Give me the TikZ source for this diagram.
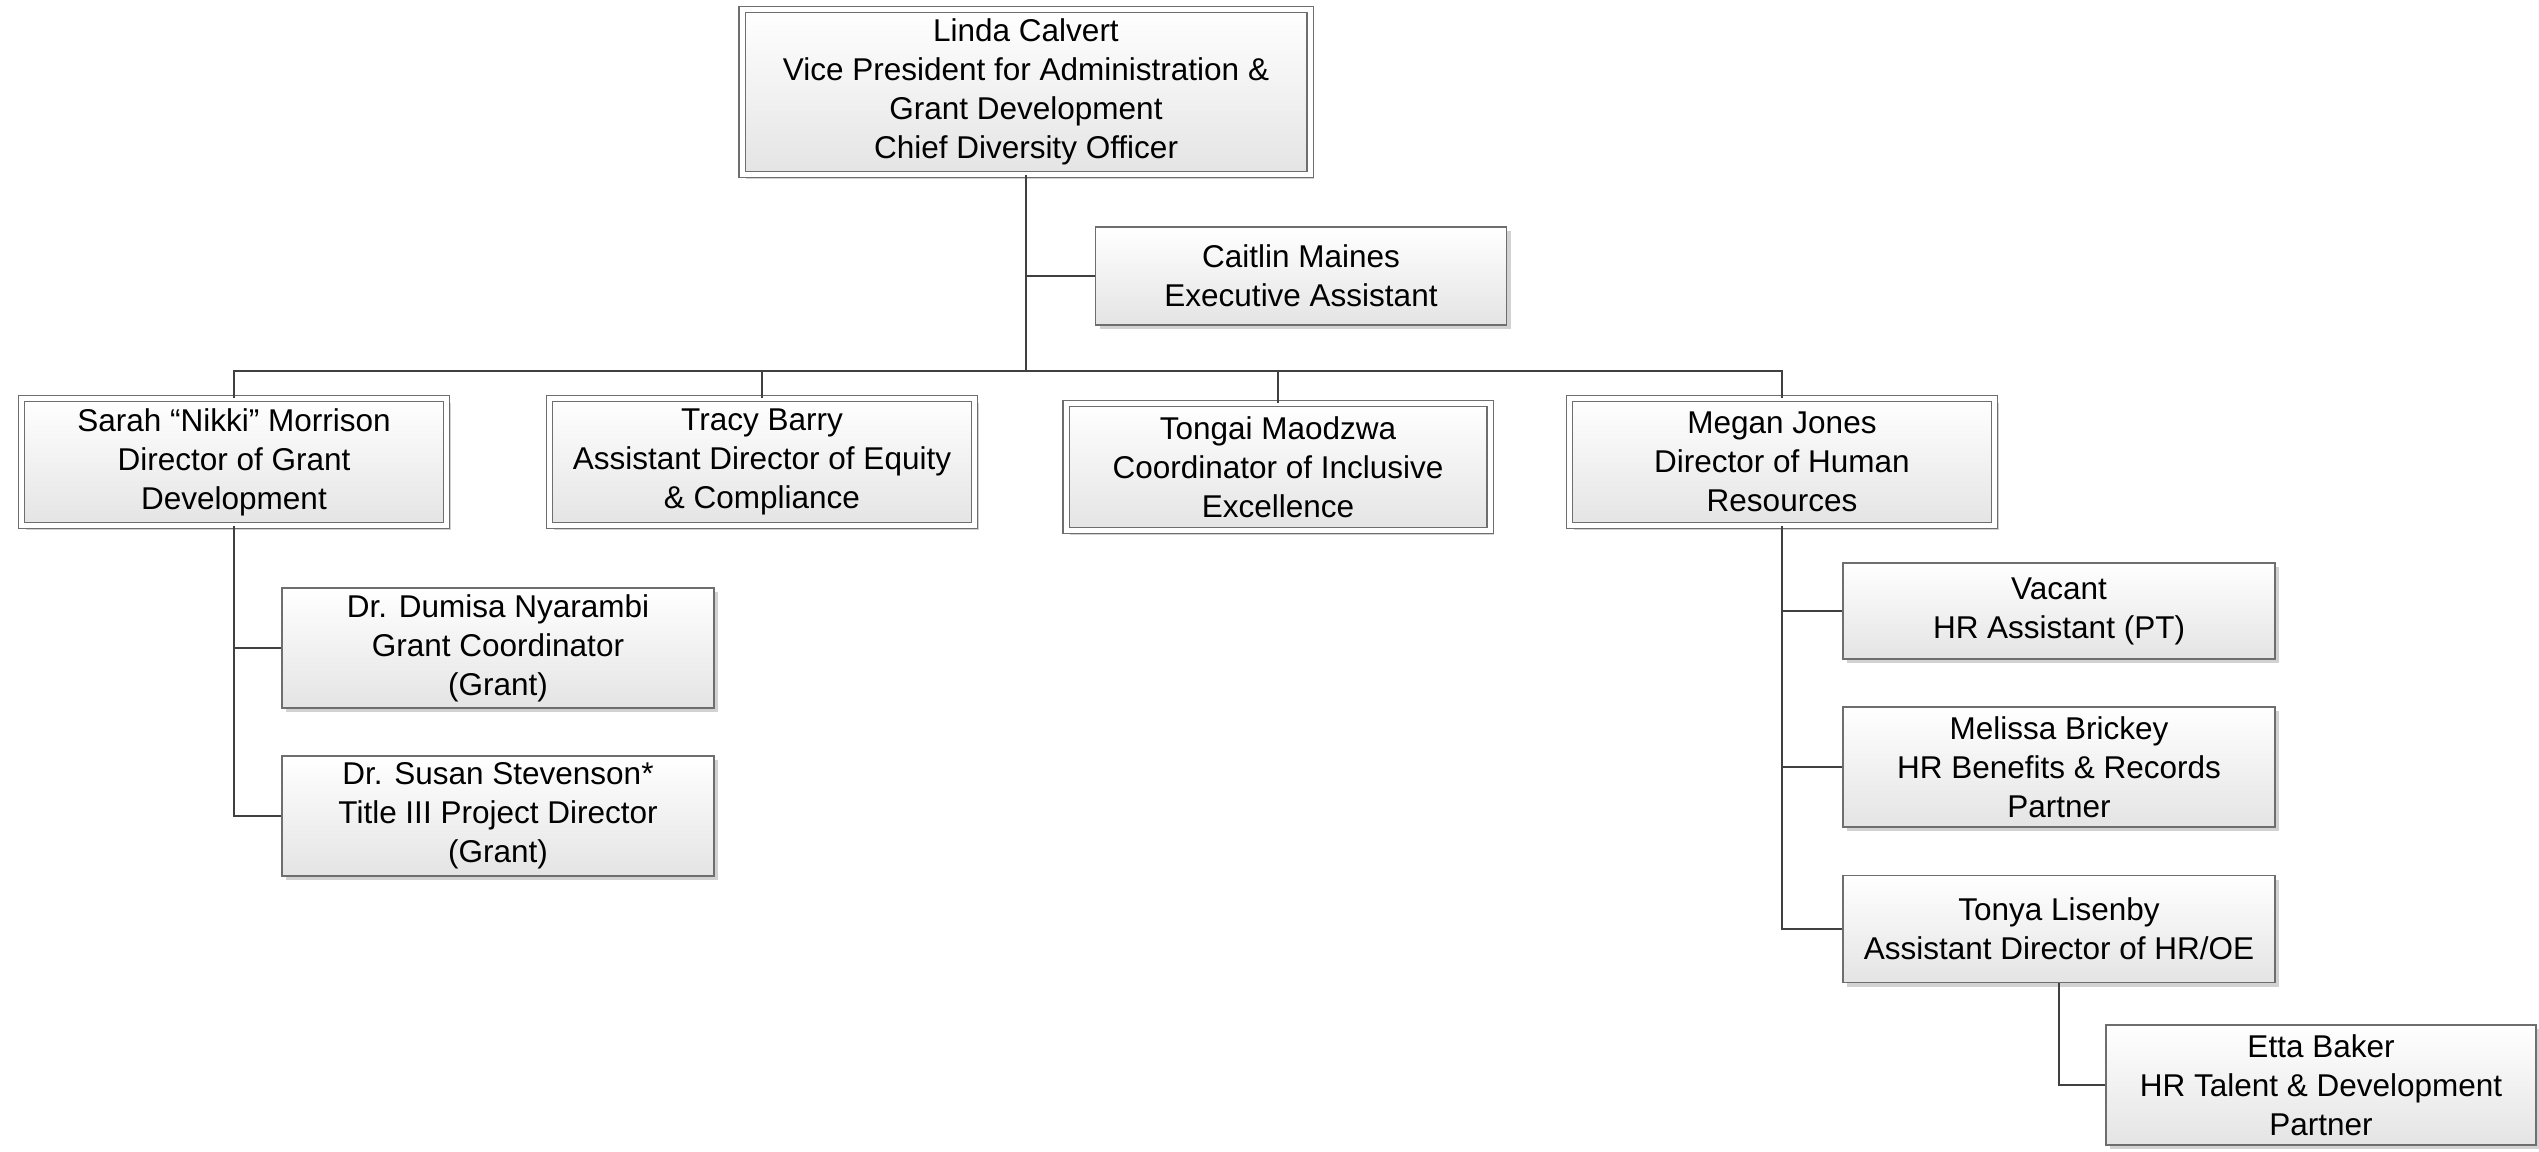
\documentclass[tikz,border=0pt]{standalone}
\usepackage{fontspec}
\setmainfont{Liberation Sans}
\usetikzlibrary{shadows}
\definecolor{edgegray}{HTML}{6E6E6E}
\definecolor{linegray}{HTML}{404040}
\definecolor{fillbot}{HTML}{E4E4E4}
\tikzset{
  orgbox/.style={draw=edgegray, line width=1.4pt, top color=white, bottom color=fillbot,
    align=center, inner sep=0pt, font=\fontsize{31.5}{39}\selectfont,
    drop shadow={shadow xshift=4pt, shadow yshift=-4pt, opacity=0.35, fill=gray}},
  dblbox/.style={orgbox, double=white, double distance=5pt, line width=1.2pt},
  conn/.style={draw=linegray, line width=2pt},
}
\begin{document}
\begin{tikzpicture}[x=1pt,y=-1pt]
\useasboundingbox (0,0) rectangle (2539,1151);
\fill[white] (0,0) rectangle (2539,1151);

\node[dblbox, minimum width=568pt, minimum height=165pt] (top) at (1026,92)
  {Linda Calvert\\Vice President for Administration \&\\Grant Development\\Chief Diversity Officer};
\node[orgbox, minimum width=411pt, minimum height=98pt] (caitlin) at (1301,276)
  {Caitlin Maines\\Executive Assistant};

\node[dblbox, minimum width=425pt, minimum height=127pt] (sarah) at (234,462)
  {Sarah “Nikki” Morrison\\Director of Grant\\Development};
\node[dblbox, minimum width=425pt, minimum height=127pt] (tracy) at (762,462)
  {Tracy Barry\\Assistant Director of Equity\\\& Compliance};
\node[dblbox, minimum width=424pt, minimum height=127pt] (tongai) at (1278,467)
  {Tongai Maodzwa\\Coordinator of Inclusive\\Excellence};
\node[dblbox, minimum width=425pt, minimum height=127pt] (megan) at (1782,462)
  {Megan Jones\\Director of Human\\Resources};

\node[orgbox, minimum width=432pt, minimum height=120pt] (dumisa) at (498,648)
  {Dr. Dumisa Nyarambi\\Grant Coordinator\\(Grant)};
\node[orgbox, minimum width=432pt, minimum height=120pt] (susan) at (498,816)
  {Dr. Susan Stevenson*\\Title III Project Director\\(Grant)};

\node[orgbox, minimum width=432pt, minimum height=96pt] (vacant) at (2059,611)
  {Vacant\\HR Assistant (PT)};
\node[orgbox, minimum width=432pt, minimum height=120pt] (melissa) at (2059,767)
  {Melissa Brickey\\HR Benefits \& Records\\Partner};
\node[orgbox, minimum width=432pt, minimum height=107pt] (tonya) at (2059,929)
  {Tonya Lisenby\\Assistant Director of HR/OE};
\node[orgbox, minimum width=430pt, minimum height=120pt] (etta) at (2321,1085)
  {Etta Baker\\HR Talent \& Development\\Partner};

\coordinate (bus) at (0,371);

\draw[conn] (top.south) -- (top.south |- bus);
\draw[conn] (caitlin.west) -- (caitlin.west -| top.south);
\draw[conn] (sarah.north) -- (sarah.north |- bus) -- (megan.north |- bus) -- (megan.north);
\draw[conn] (tracy.north) -- (tracy.north |- bus);
\draw[conn] (tongai.north) -- (tongai.north |- bus);

\draw[conn] (sarah.south) |- (susan.west);
\draw[conn] (dumisa.west) -- (dumisa.west -| sarah.south);

\draw[conn] (megan.south) |- (tonya.west);
\draw[conn] (vacant.west) -- (vacant.west -| megan.south);
\draw[conn] (melissa.west) -- (melissa.west -| megan.south);

\draw[conn] (tonya.south) |- (etta.west);
\end{tikzpicture}
\end{document}
